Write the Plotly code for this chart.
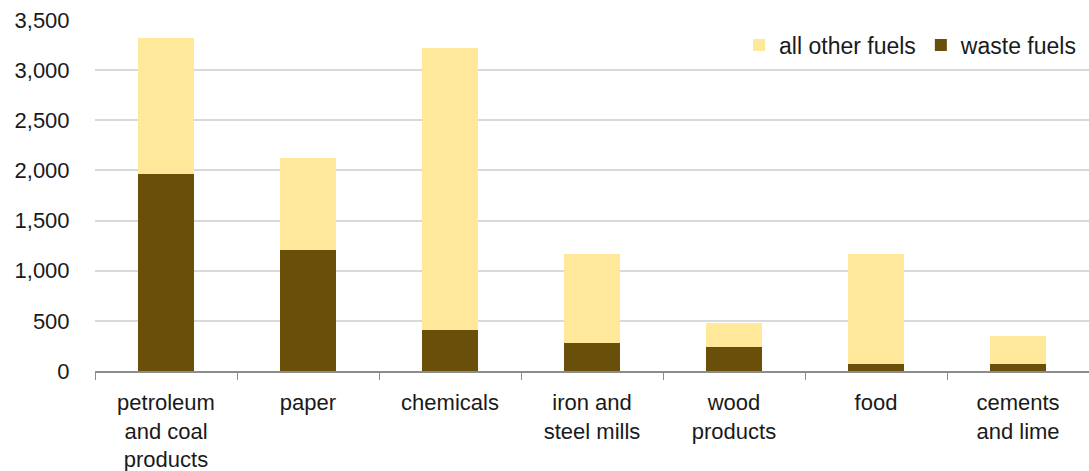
import plotly.graph_objects as go

categories = ["petroleum<br>and coal<br>products", "paper", "chemicals",
              "iron and<br>steel mills", "wood<br>products", "food", "cements<br>and lime"]
waste_fuels = [1967, 1206, 409, 276, 236, 65, 65]
all_other_fuels = [1350, 915, 2811, 890, 246, 1101, 284]
y_ticks = [0, 500, 1000, 1500, 2000, 2500, 3000, 3500]
y_tick_labels = ["0", "500", "1,000", "1,500", "2,000", "2,500", "3,000", "3,500"]

FONT = "Liberation Sans, Arial, sans-serif"
TXT = "#1a1a1a"

fig = go.Figure()
fig.add_trace(go.Bar(x=categories, y=waste_fuels, name="waste fuels",
                     marker=dict(color="#6A4F0A", line=dict(width=0))))
fig.add_trace(go.Bar(x=categories, y=all_other_fuels, name="all other fuels",
                     marker=dict(color="#FFE89A", line=dict(width=0))))

fig.update_layout(
    width=1089, height=471,
    margin=dict(l=95, r=0, t=20, b=100),
    barmode="stack", bargap=0.6,
    plot_bgcolor="white", paper_bgcolor="white",
    font=dict(family=FONT, size=22, color=TXT),
    showlegend=True,
    legend=dict(orientation="h", traceorder="reversed",
                x=0.993, xanchor="right", y=0.99, yanchor="top",
                font=dict(size=23, color=TXT), bgcolor="rgba(0,0,0,0)",
                itemwidth=30, tracegroupgap=0),
)
fig.update_xaxes(
    showline=True, linecolor="#8c8c8c", linewidth=1.5,
    ticks="outside", tickson="boundaries", ticklen=7, tickcolor="#8c8c8c",
    ticklabelstandoff=11,
    showgrid=False, tickfont=dict(size=22, color=TXT),
)
fig.update_yaxes(
    range=[0, 3500], tickvals=y_ticks, ticktext=y_tick_labels,
    showgrid=True, gridcolor="#d9d9d9", gridwidth=1.5,
    showline=False, zeroline=False,
    ticks="outside", ticklen=20, tickcolor="rgba(0,0,0,0)",
    tickfont=dict(size=22, color=TXT),
)
fig.write_html("out.html")
